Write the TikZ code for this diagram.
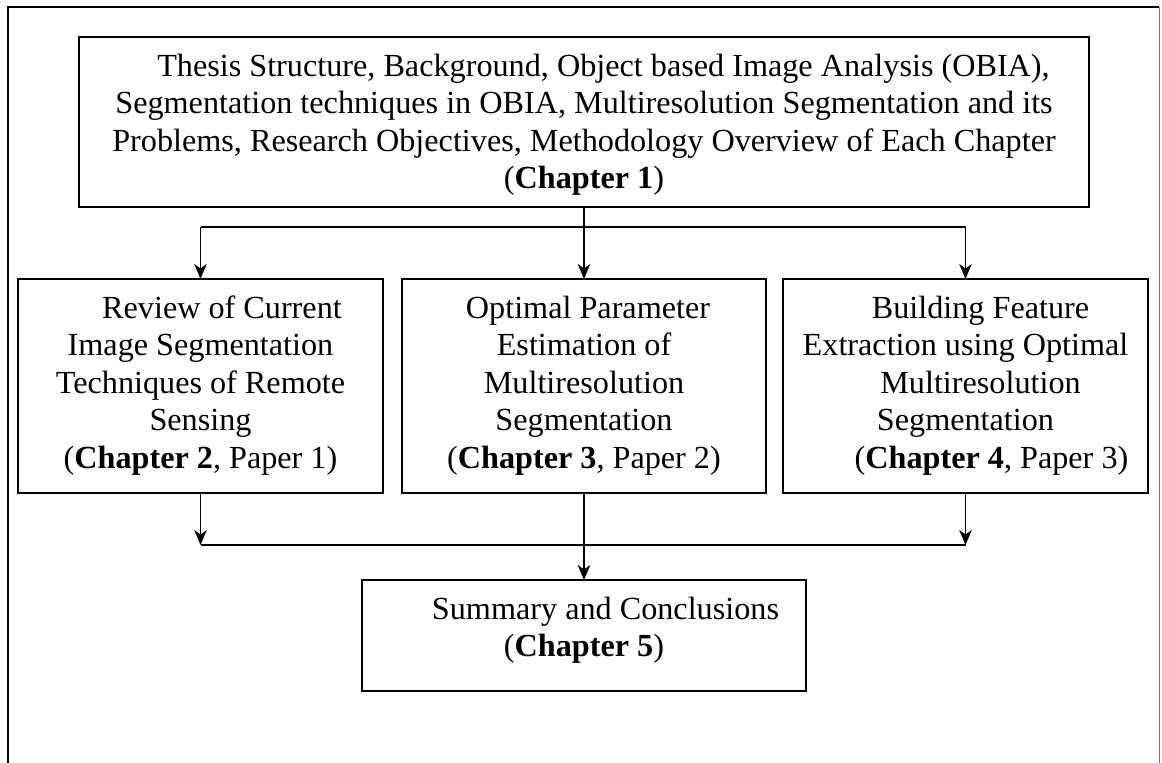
\documentclass[tikz,border=0pt]{standalone}
\usepackage{fontspec}
\setmainfont{Liberation Serif}
\usetikzlibrary{arrows.meta}

\begin{document}
\begin{tikzpicture}[x=1pt, y=-1pt,
  chbox/.style={draw, line width=2pt, inner sep=0pt, outer sep=0pt},
  chtext/.style={anchor=base, inner sep=0pt, font=\fontsize{32.2}{37.5}\selectfont},
  conn/.style={line width=1.6pt},
  arr/.style={line width=1.6pt, -{Stealth[length=15pt, width=12.5pt, inset=4.5pt]}},
  frame/.style={line width=1.5pt}]

\useasboundingbox (0,0) rectangle (1162,763);

% page frame, open at the bottom
\draw[frame] (8,763) -- (8,7) -- (1159,7);
\draw[line width=1pt, black!55] (1159,7) -- (1159,763);

% chapter boxes
\node[chbox, minimum width=1010pt, minimum height=170pt] (intro) at (584,122) {};
\node[chbox, minimum width=365pt, minimum height=214pt] (rev) at (200.5,386) {};
\node[chbox, minimum width=364pt, minimum height=214pt] (opt) at (584,386) {};
\node[chbox, minimum width=365pt, minimum height=214pt] (bld) at (965.5,386) {};
\node[chbox, minimum width=444pt, minimum height=111pt] (sum) at (584,635.5) {};

% box texts, first baseline 39pt below each box top
\node[chtext] (introtext) at ([yshift=-39pt]intro.north) {\begin{tabular}[t]{@{}c@{}}
\hspace*{39pt}Thesis Structure, Background, Object based Image Analysis (OBIA),\\
Segmentation techniques in OBIA, Multiresolution Segmentation and its\\
Problems, Research Objectives, Methodology Overview of Each Chapter\\
(\textbf{Chapter 1})\end{tabular}};

\node[chtext] (revtext) at ([yshift=-39pt]rev.north) {\begin{tabular}[t]{@{}c@{}}
\hspace*{43pt}Review of Current\\
Image Segmentation\\
Techniques of Remote\\
Sensing\\
(\textbf{Chapter 2}, Paper 1)\end{tabular}};

\node[chtext] (opttext) at ([yshift=-39pt]opt.north) {\begin{tabular}[t]{@{}c@{}}
\hspace*{8pt}Optimal Parameter\\
Estimation of\\
Multiresolution\\
Segmentation\\
(\textbf{Chapter 3}, Paper 2)\end{tabular}};

\node[chtext] (bldtext) at ([yshift=-39pt]bld.north) {\begin{tabular}[t]{@{}c@{}}
\hspace*{30pt}Building Feature\\
Extraction using Optimal\\
\hspace*{30pt}Multiresolution\\
Segmentation\\
\hspace*{52pt}(\textbf{Chapter 4}, Paper 3)\end{tabular}};

\node[chtext] (sumtext) at ([yshift=-39pt]sum.north) {\begin{tabular}[t]{@{}c@{}}
\hspace*{43pt}Summary and Conclusions\\
(\textbf{Chapter 5})\end{tabular}};

% split from chapter 1 into the three studies
\coordinate (split) at (0,227);
\draw[conn] (intro.south) -- (intro.south |- split);
\draw[conn] (rev.north |- split) -- (bld.north |- split);
\draw[arr] (rev.north |- split) -- (rev.north);
\draw[arr] (opt.north |- split) -- (opt.north);
\draw[arr] (bld.north |- split) -- (bld.north);

% join of the three studies into chapter 5
\coordinate (join) at (0,545);
\draw[arr] (rev.south) -- (rev.south |- join);
\draw[arr] (bld.south) -- (bld.south |- join);
\draw[conn] (rev.south |- join) -- (bld.south |- join);
\draw[arr] (opt.south) -- (sum.north);

\end{tikzpicture}
\end{document}
